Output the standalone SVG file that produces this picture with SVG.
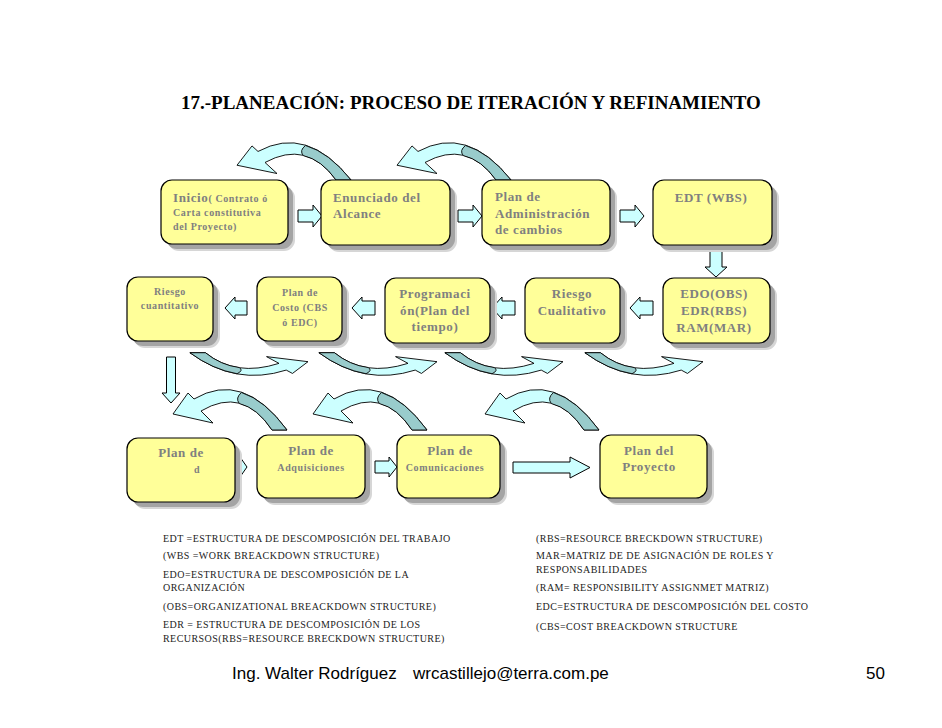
<svg xmlns="http://www.w3.org/2000/svg" xmlns:xlink="http://www.w3.org/1999/xlink" width="942" height="728" viewBox="0 0 942 728">
<style>
.bg{fill:#ffffff}
.box{fill:#ffff99;stroke:#000;stroke-width:1.2}
.sh1{fill:#d6d6d6}
.sh2{fill:#a4a4a4}
.t13{font-family:"Liberation Serif","Times New Roman",serif;font-weight:bold;font-size:13px;fill:#808080;letter-spacing:0.6px}
.t10{font-family:"Liberation Serif","Times New Roman",serif;font-weight:bold;font-size:10px;fill:#808080;letter-spacing:0.6px}
.mid{text-anchor:middle}
.title{font-family:"Liberation Serif","Times New Roman",serif;font-weight:bold;font-size:19px;fill:#000}
.leg{font-family:"Liberation Serif","Times New Roman",serif;font-size:10px;fill:#222;letter-spacing:0.45px}
.foot{font-family:"Liberation Sans",Arial,sans-serif;font-size:17px;fill:#000}
.sarr{fill:#ccffff;stroke:#000;stroke-width:1}
.clight{fill:#ccffff;stroke:#000;stroke-width:0.9}
.cdark{fill:#99cccc;stroke:#000;stroke-width:0.9}
</style>
<defs>
<g id="carc">
<path class="clight" vector-effect="non-scaling-stroke" d="M0,22 L15,1 L21,7 Q70,-22 114,38 L99,38 Q70,-6 28,19 L40,31 Z"/>
<path class="cdark" vector-effect="non-scaling-stroke" d="M68.5,0.5 Q92,8 114,38 L99,38 Q84.5,16 66.25,11.5 Q62,6 68.5,0.5 Z"/>
</g>
</defs>
<rect class="bg" x="0" y="0" width="942" height="728"/>
<text class="title" x="181" y="109">17.-PLANEACIÓN: PROCESO DE ITERACIÓN Y REFINAMIENTO</text>

<g id="connectors">
<use xlink:href="#carc" href="#carc" transform="translate(237,145) scale(1,0.92)"/>
<use xlink:href="#carc" href="#carc" transform="translate(397,145) scale(1,0.92)"/>
<use xlink:href="#carc" href="#carc" transform="translate(308,374) rotate(180) scale(1.036,0.56)"/>
<use xlink:href="#carc" href="#carc" transform="translate(437,374) rotate(180) scale(1.036,0.56)"/>
<use xlink:href="#carc" href="#carc" transform="translate(563,374) rotate(180) scale(1.036,0.56)"/>
<use xlink:href="#carc" href="#carc" transform="translate(703,374) rotate(180) scale(1.036,0.56)"/>
<use xlink:href="#carc" href="#carc" transform="translate(173,392)"/>
<use xlink:href="#carc" href="#carc" transform="translate(313,392)"/>
<use xlink:href="#carc" href="#carc" transform="translate(485,392)"/>
<path class="sarr" d="M298,210 H313 V205 L322,216 L313,227 V222 H298 Z"/>
<path class="sarr" d="M458,210 H473 V205 L482,216 L473,227 V222 H458 Z"/>
<path class="sarr" d="M620,210 H635 V205 L644,216 L635,227 V222 H620 Z"/>
<path class="sarr" d="M710,248 H722 V267 H727 L716,277 L705,267 H710 Z"/>
<path class="sarr" d="M653,301 H640 V297 L630,308 L640,319 V315 H653 Z"/>
<path class="sarr" d="M515,301 H502 V297 L492,308 L502,319 V315 H515 Z"/>
<path class="sarr" d="M375,301 H362 V297 L352,308 L362,319 V315 H375 Z"/>
<path class="sarr" d="M247,301 H235 V297 L225,308 L235,319 V315 H247 Z"/>
<path class="sarr" d="M166.5,357 H175.5 V393 H180 L171,403 L162,393 H166.5 Z"/>
<path class="sarr" d="M232,461 H240 V457 L247,467 L240,477 V473 H232 Z"/>
<path class="sarr" d="M375,461 H389 V457 L397,467 L389,477 V473 H375 Z"/>
<path class="sarr" d="M513,462 H570 V457 L590,467.5 L570,478 V473 H513 Z"/>
</g>

<g id="inicio">
<rect class="sh1" x="168" y="187" width="127" height="64" rx="11"/>
<rect class="sh2" x="166" y="185" width="127" height="64" rx="11"/>
<rect class="box" x="161" y="180" width="127" height="64" rx="11"/>
<text class="t13" x="173" y="202">Inicio<tspan class="t10">( Contrato ó</tspan></text>
<text class="t10" x="173" y="216">Carta constitutiva</text>
<text class="t10" x="173" y="230">del Proyecto)</text>
</g>
<g id="enunciado">
<rect class="sh1" x="328" y="187" width="129" height="65" rx="11"/>
<rect class="sh2" x="326" y="185" width="129" height="65" rx="11"/>
<rect class="box" x="321" y="180" width="129" height="65" rx="11"/>
<text class="t13" x="333" y="202">Enunciado del</text>
<text class="t13" x="333" y="218">Alcance</text>
</g>
<g id="plan-cambios">
<rect class="sh1" x="489" y="187" width="128" height="65" rx="11"/>
<rect class="sh2" x="487" y="185" width="128" height="65" rx="11"/>
<rect class="box" x="482" y="180" width="128" height="65" rx="11"/>
<text class="t13" x="495" y="201">Plan de</text>
<text class="t13" x="495" y="218">Administración</text>
<text class="t13" x="495" y="234">de cambios</text>
</g>
<g id="edt">
<rect class="sh1" x="660" y="187" width="119" height="65" rx="11"/>
<rect class="sh2" x="658" y="185" width="119" height="65" rx="11"/>
<rect class="box" x="653" y="180" width="119" height="65" rx="11"/>
<text class="t13 mid" x="711" y="202">EDT (WBS)</text>
</g>

<g id="riesgo-cuant">
<rect class="sh1" x="134" y="284" width="86" height="64" rx="11"/>
<rect class="sh2" x="132" y="282" width="86" height="64" rx="11"/>
<rect class="box" x="127" y="277" width="86" height="64" rx="11"/>
<text class="t10 mid" x="170" y="295">Riesgo</text>
<text class="t10 mid" x="170" y="309">cuantitativo</text>
</g>
<g id="plan-costo">
<rect class="sh1" x="264" y="284" width="85" height="64" rx="11"/>
<rect class="sh2" x="262" y="282" width="85" height="64" rx="11"/>
<rect class="box" x="257" y="277" width="85" height="64" rx="11"/>
<text class="t10 mid" x="300" y="296">Plan de</text>
<text class="t10 mid" x="300" y="311">Costo (CBS</text>
<text class="t10 mid" x="300" y="326">ó EDC)</text>
</g>
<g id="programacion">
<rect class="sh1" x="392" y="285" width="105" height="65" rx="11"/>
<rect class="sh2" x="390" y="283" width="105" height="65" rx="11"/>
<rect class="box" x="385" y="278" width="105" height="65" rx="11"/>
<text class="t13 mid" x="435" y="298">Programaci</text>
<text class="t13 mid" x="435" y="315">ón(Plan del</text>
<text class="t13 mid" x="435" y="331">tiempo)</text>
</g>
<g id="riesgo-cual">
<rect class="sh1" x="532" y="285" width="95" height="65" rx="11"/>
<rect class="sh2" x="530" y="283" width="95" height="65" rx="11"/>
<rect class="box" x="525" y="278" width="95" height="65" rx="11"/>
<text class="t13 mid" x="572" y="298">Riesgo</text>
<text class="t13 mid" x="572" y="315">Cualitativo</text>
</g>
<g id="edo">
<rect class="sh1" x="670" y="285" width="107" height="65" rx="11"/>
<rect class="sh2" x="668" y="283" width="107" height="65" rx="11"/>
<rect class="box" x="663" y="278" width="107" height="65" rx="11"/>
<text class="t13 mid" x="714" y="298">EDO(OBS)</text>
<text class="t13 mid" x="714" y="315">EDR(RBS)</text>
<text class="t13 mid" x="714" y="332">RAM(MAR)</text>
</g>

<g id="plan-d">
<rect class="sh1" x="134" y="445" width="108" height="64" rx="11"/>
<rect class="sh2" x="132" y="443" width="108" height="64" rx="11"/>
<rect class="box" x="127" y="438" width="108" height="64" rx="11"/>
<text class="t13 mid" x="181" y="457">Plan de</text>
<text class="t10" x="194" y="473">d</text>
</g>
<g id="plan-adquisiciones">
<rect class="sh1" x="264" y="442" width="108" height="63" rx="11"/>
<rect class="sh2" x="262" y="440" width="108" height="63" rx="11"/>
<rect class="box" x="257" y="435" width="108" height="63" rx="11"/>
<text class="t13 mid" x="311" y="455">Plan de</text>
<text class="t10 mid" x="311" y="471">Adquisiciones</text>
</g>
<g id="plan-comunicaciones">
<rect class="sh1" x="404" y="442" width="103" height="63" rx="11"/>
<rect class="sh2" x="402" y="440" width="103" height="63" rx="11"/>
<rect class="box" x="397" y="435" width="103" height="63" rx="11"/>
<text class="t13 mid" x="450" y="455">Plan de</text>
<text class="t10 mid" x="445" y="471">Comunicaciones</text>
</g>
<g id="plan-proyecto">
<rect class="sh1" x="607" y="442" width="107" height="63" rx="11"/>
<rect class="sh2" x="605" y="440" width="107" height="63" rx="11"/>
<rect class="box" x="600" y="435" width="107" height="63" rx="11"/>
<text class="t13 mid" x="649" y="455">Plan del</text>
<text class="t13 mid" x="649" y="471">Proyecto</text>
</g>

<g id="legend">
<text class="leg" x="163" y="542">EDT =ESTRUCTURA DE DESCOMPOSICIÓN DEL TRABAJO</text>
<text class="leg" x="163" y="559">(WBS =WORK BREACKDOWN STRUCTURE)</text>
<text class="leg" x="163" y="578">EDO=ESTRUCTURA DE DESCOMPOSICIÓN DE LA</text>
<text class="leg" x="163" y="591">ORGANIZACIÓN</text>
<text class="leg" x="163" y="610">(OBS=ORGANIZATIONAL BREACKDOWN STRUCTURE)</text>
<text class="leg" x="163" y="628">EDR = ESTRUCTURA DE DESCOMPOSICIÓN DE LOS</text>
<text class="leg" x="163" y="642">RECURSOS(RBS=RESOURCE BRECKDOWN STRUCTURE)</text>
<text class="leg" x="536" y="542">(RBS=RESOURCE BRECKDOWN STRUCTURE)</text>
<text class="leg" x="536" y="559">MAR=MATRIZ DE DE ASIGNACIÓN DE ROLES Y</text>
<text class="leg" x="536" y="573">RESPONSABILIDADES</text>
<text class="leg" x="536" y="591">(RAM= RESPONSIBILITY ASSIGNMET MATRIZ)</text>
<text class="leg" x="536" y="610">EDC=ESTRUCTURA DE DESCOMPOSICIÓN DEL COSTO</text>
<text class="leg" x="536" y="630">(CBS=COST BREACKDOWN STRUCTURE</text>
</g>

<g id="footer">
<text class="foot" x="232" y="679">Ing. Walter Rodríguez</text>
<text class="foot" x="413" y="679">wrcastillejo@terra.com.pe</text>
<text class="foot" x="866" y="679">50</text>
</g>
</svg>
